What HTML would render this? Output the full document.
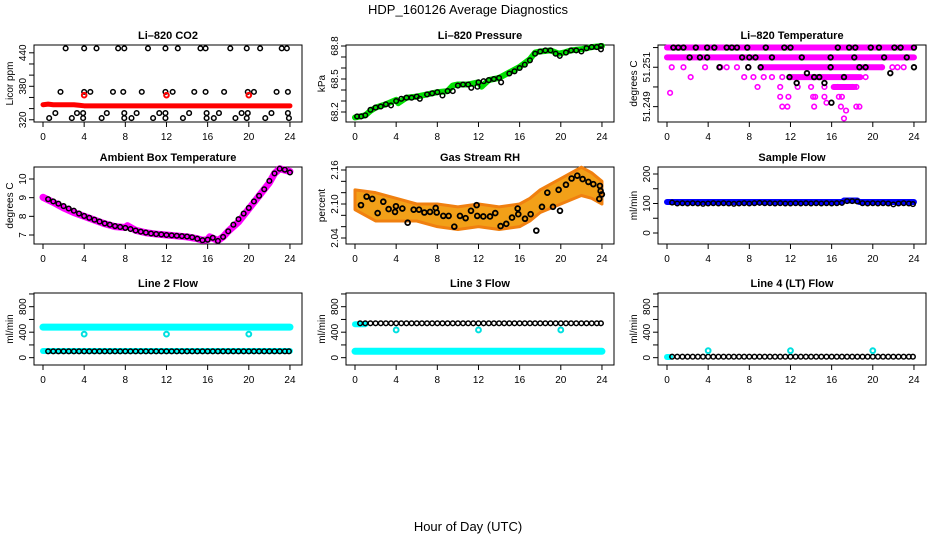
<!DOCTYPE html>
<html><head><meta charset="utf-8"><style>
html,body{margin:0;padding:0;background:#fff;}
svg{display:block;font-family:"Liberation Sans",sans-serif;}
</style></head><body>
<svg id="chart" width="936" height="540" viewBox="0 0 936 540" xmlns="http://www.w3.org/2000/svg">
<rect x="0" y="0" width="936" height="540" fill="#fff"/>
<text x="468" y="14" font-size="13" text-anchor="middle">HDP_160126  Average Diagnostics</text>
<text x="468" y="531" font-size="13" text-anchor="middle">Hour of Day (UTC)</text>
</svg>
<script>
// ---------- data ----------
const xTicks = [0,4,8,12,16,20,24];
// CO2
const co2RedH = [0,0.5,1,2,3,3.5,4,6,8,10,12,14,16,18,20,22,24];
const co2RedV = [347,348,347,347,347,346,345,345,345,345,345,345,345,345,345,345,345];
const co2OutH = [4,12,20];
const co2OutV = [364,364,364];
const co2BlkH = [2.2,4.0,5.2,7.3,7.9,10.2,11.9,13.1,15.3,15.8,18.2,19.8,21.1,23.2,23.7,
 1.7,4.0,4.6,6.8,7.8,9.6,11.9,12.6,14.7,15.8,17.6,19.9,20.5,22.7,23.8,
 1.2,3.3,3.9,6.2,7.9,9.1,11.3,11.9,14.2,15.9,17.1,19.3,19.9,22.2,23.8,
 0.6,2.8,3.9,5.7,7.9,8.6,10.7,11.9,13.6,15.9,16.6,18.7,19.8,21.6,23.9];
const co2BlkV = [448,448,448,448,448,448,448,448,448,448,448,448,448,448,448,
 370,370,370,370,370,370,370,370,370,370,370,370,370,370,370,
 332,332,332,332,332,332,332,332,332,332,332,332,332,332,332,
 323,323,323,323,323,323,323,323,323,323,323,323,323,323,323];
// Pressure
const presH = [0,0.5,1,1.5,2,3,4,4.2,5,6,7,8,9,9.5,10,11,12,12.3,13,14,15,16,17,17.5,18,19,19.8,20.3,21,22,23,24];
const presV = [68.15,68.16,68.17,68.21,68.24,68.27,68.31,68.28,68.33,68.34,68.36,68.38,68.39,68.44,68.45,68.45,68.47,68.43,68.49,68.51,68.56,68.61,68.68,68.74,68.75,68.76,68.73,68.74,68.76,68.77,68.79,68.80];
const presPtH = [0.2,0.6,1,1.5,2,2.5,3,3.5,4,4.5,5,5.5,6,6.3,7,7.5,8,8.5,9,9.5,10,10.5,11,11.3,11.9,12,12.5,13,13.5,14,14.2,15,15.5,16,16.5,17,17.5,18,18.5,19,19.5,19.9,20.5,21,21.5,22,22.5,23,23.5,23.9,23.9];
const presPtV = [68.16,68.16,68.17,68.22,68.24,68.25,68.27,68.26,68.30,68.32,68.33,68.33,68.34,68.32,68.36,68.37,68.38,68.35,68.39,68.39,68.44,68.45,68.45,68.42,68.43,68.47,68.48,68.49,68.50,68.51,68.47,68.55,68.57,68.60,68.63,68.67,68.73,68.75,68.76,68.76,68.73,68.71,68.74,68.76,68.76,68.75,68.78,68.79,68.79,68.80,68.77];
// Temperature
const tSegV = [51.252,51.2515,51.251,51.2505,51.250];
const tSegA = [0,0,9.1,12.0,16.2];
const tSegB = [24,24,20.8,18.8,18.2];
const tPtH = [0.46,1.6,3.7,5.2,5.8,6.8,7.9,20.9,21.9,22.4,23,
 2.3,7.5,8.4,9.4,10.2,11.2,19.3,
 8.8,11.0,12.7,14.0,15.3,16.6,18.0,18.4,0.3,
 11,11.8,14.2,14.4,15.3,16.7,17.0,
 11.2,11.7,14.3,16.9,18.4,18.7,15.5,17.4,17.2];
const tPtV = [51.251,51.251,51.251,51.251,51.251,51.251,51.251,51.251,51.251,51.251,51.251,
 51.2505,51.2505,51.2505,51.2505,51.2505,51.2505,51.2505,
 51.250,51.250,51.250,51.250,51.250,51.250,51.250,51.250,51.2497,
 51.2495,51.2495,51.2495,51.2495,51.2495,51.2495,51.2495,
 51.249,51.249,51.249,51.249,51.249,51.249,51.2492,51.2488,51.2484];
const tBlkH = [0.62,1.1,1.6,2.8,3.9,4.6,5.8,6.3,6.8,7.8,9.6,11.4,12.0,16.6,17.7,18.3,19.8,20.6,22.1,22.7,24.0,
 2.2,3.2,3.9,7.3,8.0,8.6,10.2,13.1,15.9,18.2,21.1,23.3,
 5.1,7.9,9.1,15.9,18.7,19.3,24.0,
 21.7,13.6,11.9,14.3,14.8,17.2,12.6,15.3,15.98];
const tBlkV = [51.252,51.252,51.252,51.252,51.252,51.252,51.252,51.252,51.252,51.252,51.252,51.252,51.252,51.252,51.252,51.252,51.252,51.252,51.252,51.252,51.252,
 51.2515,51.2515,51.2515,51.2515,51.2515,51.2515,51.2515,51.2515,51.2515,51.2515,51.2515,51.2515,
 51.251,51.251,51.251,51.251,51.251,51.251,51.251,
 51.2507,51.2507,51.2505,51.2505,51.2505,51.2505,51.2502,51.2502,51.2492];
// Ambient
const ambH = [0,1,2,3,4,5,6,7,8,8.2,9,10,11,12,13,14,15,15.5,16,16.2,17,17.5,18,19,20,21,22,22.5,23,24];
const ambV = [9.02,8.75,8.45,8.2,8.0,7.8,7.6,7.45,7.4,7.5,7.25,7.12,7.05,7.0,6.95,6.9,6.8,6.72,6.75,6.9,6.7,6.9,7.2,7.7,8.4,9.1,9.8,10.3,10.55,10.4];
const ambPtH = [0.5,1,1.5,2,2.5,3,3.5,4,4.5,5,5.5,6,6.5,7,7.5,8,8.5,9,9.5,10,10.5,11,11.5,12,12.5,13,13.5,14,14.5,15,15.5,16,16.5,17,17.5,18,18.5,19,19.5,20,20.5,21,21.5,22,22.5,23,23.5,24];
const ambPtV = [8.92,8.8,8.68,8.55,8.42,8.3,8.15,8.02,7.92,7.82,7.72,7.62,7.55,7.48,7.43,7.38,7.32,7.24,7.18,7.13,7.08,7.05,7.03,7.0,6.98,6.96,6.94,6.92,6.88,6.8,6.72,6.75,6.85,6.68,6.9,7.2,7.55,7.85,8.15,8.45,8.8,9.1,9.45,9.9,10.3,10.55,10.5,10.35];
// Gas RH
const rhBandH = [0,2,4,6,8,10,12,14,16,17,18,20,22,23,24];
const rhLo = [2.09,2.07,2.07,2.07,2.06,2.055,2.06,2.055,2.06,2.07,2.085,2.10,2.115,2.11,2.10];
const rhHi = [2.125,2.12,2.11,2.10,2.10,2.095,2.10,2.095,2.10,2.11,2.125,2.145,2.165,2.155,2.14];
const rhPtH = [0.58,1.13,1.68,2.2,2.75,3.27,3.89,3.98,4.6,5.12,5.7,6.22,6.74,7.29,7.84,7.94,8.58,9.1,9.65,10.2,10.75,11.27,11.82,11.88,12.47,13.12,13.63,14.15,14.7,15.26,15.81,15.87,16.52,17.07,17.62,18.17,18.69,19.24,19.79,19.92,20.5,21.05,21.6,22.12,22.68,23.16,23.8,23.87,23.74,23.99];
const rhPtV = [2.098,2.113,2.109,2.084,2.104,2.091,2.086,2.096,2.092,2.067,2.090,2.090,2.085,2.086,2.093,2.085,2.079,2.079,2.060,2.079,2.075,2.088,2.098,2.079,2.078,2.078,2.084,2.061,2.065,2.076,2.092,2.082,2.074,2.082,2.053,2.095,2.120,2.095,2.125,2.088,2.134,2.145,2.150,2.144,2.139,2.135,2.132,2.123,2.109,2.117];
// Flows
const sampBandH = [0,17,17.2,18.5,18.7,24];
const sampBandV = [105,105,110,110,105,105];
const flowH = [0.5,1,1.5,2,2.5,3,3.5,4,4.5,5,5.5,6,6.5,7,7.5,8,8.5,9,9.5,10,10.5,11,11.5,12,12.5,13,13.5,14,14.5,15,15.5,16,16.5,17,17.5,18,18.5,19,19.5,20,20.5,21,21.5,22,22.5,23,23.5,23.9];
const sampBlk = [103,100,101,100,101,100,99,100,101,100,101,100,99,100,101,100,101,102,101,101,100,101,100,100,101,100,101,100,101,100,101,100,101,102,108,108,107,101,100,101,100,101,100,97,100,101,100,98];
const l2BandH = [0,24]; const l2HiV = [480,480]; const l2LoV = [105,105];
const l2Blk = [100,100,100,100,100,100,100,100,100,100,100,100,100,100,100,100,100,100,100,100,100,100,100,100,100,100,100,100,100,100,100,100,100,100,100,100,100,100,100,100,100,100,100,100,100,100,100,100];
const l2OutH = [4,12,20]; const l2OutV = [370,370,370];
const l3BandH = [0,24]; const l3LoV = [100,100]; const l3HiH = [0,1]; const l3HiV = [525,525];
const l3Blk = [540,540,540,540,540,540,540,540,540,540,540,540,540,540,540,540,540,540,540,540,540,540,540,540,540,540,540,540,540,540,540,540,540,540,540,540,540,540,540,540,540,540,540,540,540,540,540,540];
const l3OutH = [4,12,20]; const l3OutV = [435,435,435];
const l4Blk = [15,15,15,15,15,15,15,15,15,15,15,15,15,15,15,15,15,15,15,15,15,15,15,15,15,15,15,15,15,15,15,15,15,15,15,15,15,15,15,15,15,15,15,15,15,15,15,15];
const l4OutH = [4,12,20]; const l4OutV = [110,110,110]; const l4StartH = [0,0.3]; const l4StartV = [10,10];

// ---------- drawing ----------
const NS = 'http://www.w3.org/2000/svg';
const svg = document.getElementById('chart');
const X0 = [43, 355, 667]; const PXH = 10.29;
const ROWS = [[45,122],[167,244],[293,365]];

function makePanel(c, r, ymin, ymax, title, ylab, yticks, ylabels, name) {
  const g = document.createElementNS(NS,'g');
  
  
  svg.appendChild(g);
  const top = ROWS[r][0], bot = ROWS[r][1];
  const left = 34 + c*312, right = 302 + c*312;
  const sx = h => X0[c] + h*PXH;
  const sy = v => top + (ymax - v)/(ymax - ymin)*(bot - top);
  const box = document.createElementNS(NS,'rect');
  box.setAttribute('x', left); box.setAttribute('y', top);
  box.setAttribute('width', right-left); box.setAttribute('height', bot-top);
  box.setAttribute('fill','none'); box.setAttribute('stroke','#000');
  
  
  g.appendChild(box);
  const t = document.createElementNS(NS,'text');
  t.setAttribute('x', (left+right)/2); t.setAttribute('y', top-6);
  t.setAttribute('font-size','11'); t.setAttribute('font-weight','bold'); t.setAttribute('text-anchor','middle');
  t.textContent = title;
  
  
  g.appendChild(t);
  const yl = document.createElementNS(NS,'text');
  const yc = (top+bot)/2;
  yl.setAttribute('transform','translate('+(left-21)+','+yc+') rotate(-90)');
  yl.setAttribute('font-size','10'); yl.setAttribute('text-anchor','middle');
  yl.textContent = ylab;
  
  
  g.appendChild(yl);
  xTicks.forEach(h => {
    const ln = document.createElementNS(NS,'line');
    ln.setAttribute('x1', sx(h)); ln.setAttribute('x2', sx(h));
    ln.setAttribute('y1', bot); ln.setAttribute('y2', bot+5); ln.setAttribute('stroke','#000');
    
    
    g.appendChild(ln);
    const tx = document.createElementNS(NS,'text');
    tx.setAttribute('x', sx(h)); tx.setAttribute('y', bot+18);
    tx.setAttribute('font-size','10'); tx.setAttribute('text-anchor','middle');
    tx.textContent = h;
    
    
    g.appendChild(tx);
  });
  yticks.forEach(v => {
    const ln = document.createElementNS(NS,'line');
    ln.setAttribute('x1', left); ln.setAttribute('x2', left-5);
    ln.setAttribute('y1', sy(v)); ln.setAttribute('y2', sy(v)); ln.setAttribute('stroke','#000');
    
    
    g.appendChild(ln);
  });
  ylabels.forEach(v => {
    const tx = document.createElementNS(NS,'text');
    tx.setAttribute('transform','translate('+(left-8)+','+sy(v)+') rotate(-90)');
    tx.setAttribute('font-size','10'); tx.setAttribute('text-anchor','middle');
    tx.textContent = v;
    
    
    g.appendChild(tx);
  });
  return {g, sx, sy};
}
function band(p, hs, vs, color, w, name) {
  const el = document.createElementNS(NS,'polyline');
  el.setAttribute('points', hs.map((h,i)=>p.sx(h)+','+p.sy(vs[i])).join(' '));
  el.setAttribute('fill','none'); el.setAttribute('stroke',color); el.setAttribute('stroke-width',w);
  el.setAttribute('stroke-linecap','round'); el.setAttribute('stroke-linejoin','round');
  
  
  p.g.appendChild(el);
}
function pts(p, hs, vs, color, name, r, sw) {
  hs.forEach((h,i) => {
    const el = document.createElementNS(NS,'circle');
    el.setAttribute('cx', p.sx(h)); el.setAttribute('cy', p.sy(vs[i]));
    el.setAttribute('r', r||2.3); el.setAttribute('fill','none');
    el.setAttribute('stroke', color); el.setAttribute('stroke-width', sw||1.5);
    
    
    p.g.appendChild(el);
  });
}

// Li-820 CO2
let p = makePanel(0,0,316,454,'Li–820 CO2','Licor ppm',[320,340,360,380,400,420,440],[320,380,440],'co2-panel');
pts(p, co2BlkH, co2BlkV, '#000', 'co2-point');
band(p, co2RedH, co2RedV, '#f00', 5, 'co2-red-band');
pts(p, co2OutH, co2OutV, '#f00', 'co2-red-point', 2.3, 2);
// Pressure
p = makePanel(1,0,68.109,68.809,'Li–820 Pressure','kPa',[68.2,68.3,68.4,68.5,68.6,68.7,68.8],[68.2,68.5,68.8],'pressure-panel');
band(p, presH, presV, '#00e000', 6, 'pressure-green-band');
pts(p, presPtH, presPtV, '#000', 'pressure-point');
// Temperature
p = makePanel(2,0,51.24822,51.25213,'Li–820 Temperature','degrees C',[51.249,51.25,51.251,51.252],['51.249','51.251'],'temperature-panel');
tSegV.forEach((v,i) => band(p, [tSegA[i], tSegB[i]], [v, v], '#ff00ff', 6, 'temperature-band'));
pts(p, tPtH, tPtV, '#ff00ff', 'temperature-point', 2.3, 1.6);
pts(p, tBlkH, tBlkV, '#000', 'temperature-black-point', 2.3, 1.8);
// Ambient
p = makePanel(0,1,6.518,10.643,'Ambient Box Temperature','degrees C',[7,8,9,10],[7,8,9,10],'ambient-panel');
band(p, ambH, ambV, '#ff00ff', 7, 'ambient-band');
pts(p, ambPtH, ambPtV, '#000', 'ambient-point');
// Gas RH
p = makePanel(1,1,2.0294,2.1653,'Gas Stream RH','percent',[2.04,2.06,2.08,2.10,2.12,2.14,2.16],['2.04','2.10','2.16'],'rh-panel');
(function(){
  const el = document.createElementNS(NS,'polygon');
  const up = rhBandH.map((h,i)=>p.sx(h)+','+p.sy(rhHi[i]));
  const dn = rhBandH.map((h,i)=>p.sx(h)+','+p.sy(rhLo[i])).reverse();
  el.setAttribute('points', up.concat(dn).join(' '));
  el.setAttribute('fill','#f2a018'); el.setAttribute('stroke','#f08010'); el.setAttribute('stroke-width','3');
  el.setAttribute('stroke-linejoin','round');
  
  
  p.g.appendChild(el);
})();
pts(p, rhPtH, rhPtV, '#000', 'rh-point', 2.4, 1.8);
// Sample flow
p = makePanel(2,1,-37.3,223.7,'Sample Flow','ml/min',[0,50,100,150,200],[0,100,200],'sample-flow-panel');
band(p, sampBandH, sampBandV, '#0000ff', 6, 'sample-flow-band');
pts(p, flowH, sampBlk, '#000', 'sample-flow-point');
// Line 2
p = makePanel(0,2,-115,1015,'Line 2 Flow','ml/min',[0,200,400,600,800,1000],[0,400,800],'line2-panel');
band(p, l2BandH, l2HiV, '#00ffff', 7, 'line2-high-band');
band(p, l2BandH, l2LoV, '#00ffff', 6, 'line2-low-band');
pts(p, flowH, l2Blk, '#000', 'line2-point');
pts(p, l2OutH, l2OutV, '#00e0e0', 'line2-outlier', 2.4, 2);
// Line 3
p = makePanel(1,2,-115,1015,'Line 3 Flow','ml/min',[0,200,400,600,800,1000],[0,400,800],'line3-panel');
band(p, l3BandH, l3LoV, '#00ffff', 7, 'line3-low-band');
band(p, l3HiH, l3HiV, '#00ffff', 6, 'line3-start-band');
pts(p, flowH, l3Blk, '#000', 'line3-point');
pts(p, l3OutH, l3OutV, '#00e0e0', 'line3-outlier', 2.4, 2);
// Line 4
p = makePanel(2,2,-115,1015,'Line 4 (LT) Flow','ml/min',[0,200,400,600,800,1000],[0,400,800],'line4-panel');
band(p, l4StartH, l4StartV, '#00ffff', 6, 'line4-start-band');
pts(p, flowH, l4Blk, '#000', 'line4-point');
pts(p, l4OutH, l4OutV, '#00e0e0', 'line4-outlier', 2.4, 2);
</script>
</body></html>
